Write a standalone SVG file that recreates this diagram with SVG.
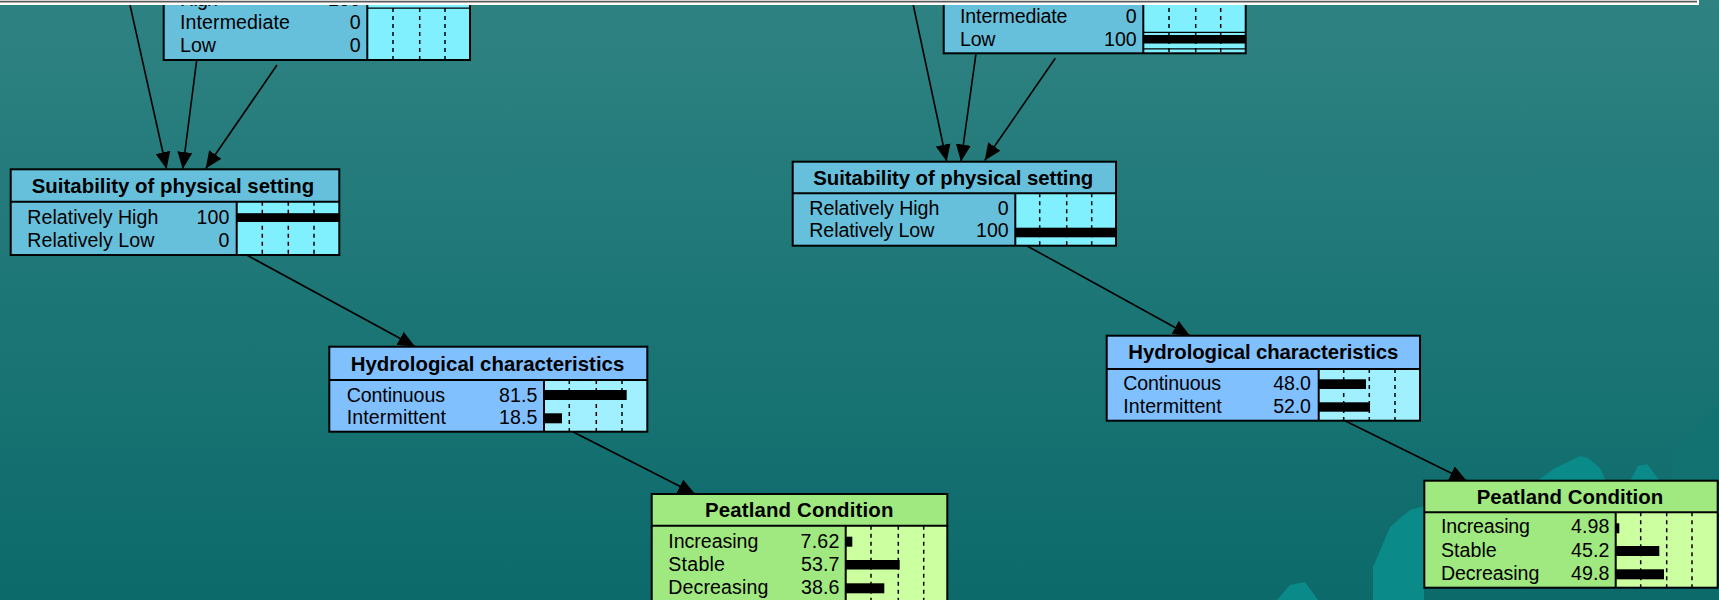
<svg xmlns="http://www.w3.org/2000/svg" width="1719" height="600" viewBox="0 0 1719 600">
  <defs>
    <linearGradient id="bg" x1="0" y1="0" x2="0" y2="1">
      <stop offset="0" stop-color="#2f8282"/>
      <stop offset="0.5" stop-color="#1d7676"/>
      <stop offset="1" stop-color="#0c6a6a"/>
    </linearGradient>
    <marker id="arrow" markerUnits="userSpaceOnUse" markerWidth="17" markerHeight="15" refX="17" refY="7.5" orient="auto">
      <path d="M0,0 L17,7.5 L0,15 z" fill="#000"/>
    </marker>
  </defs>
  <style>
    text { font-family: "Liberation Sans", Arial, sans-serif; fill: #000; }
    .lbl { font-size: 19.6px; }
    .val { font-size: 19.6px; text-anchor: end; }
    .ttl { font-size: 20.4px; font-weight: bold; text-anchor: middle; }
    .frame { fill: none; stroke: #000; stroke-width: 2; }
    .sep { stroke: #000; stroke-width: 2; }
    .tick { stroke: #000; stroke-width: 1.5; stroke-dasharray: 4 4; }
    .bar { fill: #000; }
    .thin { stroke: #000; stroke-width: 1.3; }
    .edge { stroke: #000; stroke-width: 1.6; fill: none; marker-end: url(#arrow); }
    .blueA { fill: #66c0dc; }
    .blueB { fill: #80f0ff; }
    .skyA { fill: #80c0ff; }
    .skyB { fill: #a0f0ff; }
    .greenA { fill: #a0e880; }
    .greenB { fill: #ccffa0; }
    .art { fill: #0b8a8a; }
  </style>

  <!-- backdrop -->
  <rect x="0" y="0" width="1719" height="600" fill="url(#bg)"/>
  <g id="backdrop-art">
    <polygon class="art" points="1373,600 1373,567 1390,527 1410,510 1424,506 1424,600"/>
    <polygon class="art" points="1277,600 1290,585 1305,582 1318,600"/>
    <polygon class="art" points="1537,481 1555,468 1580,456 1588,458 1600,468 1606,481"/>
    <polygon class="art" points="1630,481 1638,466 1647,464 1660,481"/>
    <polygon points="1672,481 1673,447 1695,430 1719,405 1719,481" fill="#127272"/>
  </g>

  <!-- connectors -->
  <g id="connectors">
    <line class="edge" x1="128.9" y1="0" x2="166.6" y2="169"/>
    <line class="edge" x1="196.7" y1="60" x2="182.7" y2="169"/>
    <line class="edge" x1="277" y1="65" x2="205.7" y2="168.5"/>
    <line class="edge" x1="246.7" y1="255" x2="415" y2="346.5"/>
    <line class="edge" x1="573.3" y1="432" x2="695" y2="494"/>
    <line class="edge" x1="912.2" y1="0" x2="946.7" y2="161.5"/>
    <line class="edge" x1="976" y1="53.3" x2="961" y2="161.5"/>
    <line class="edge" x1="1055.3" y1="58.3" x2="984.7" y2="160.5"/>
    <line class="edge" x1="1026.7" y1="245.7" x2="1190" y2="335.7"/>
    <line class="edge" x1="1345" y1="420.7" x2="1466.7" y2="480.7"/>
  </g>

  <!-- parent node, left (title above view) -->
  <g id="node-parent-left">
    <rect class="blueA" x="163.7" y="-40" width="306.3" height="100"/>
    <rect class="blueB" x="367.3" y="-40" width="102.7" height="100"/>
    <line class="sep" x1="367.3" y1="-40" x2="367.3" y2="60"/>
    <line class="tick" x1="393" y1="-40" x2="393" y2="60"/>
    <line class="tick" x1="419.7" y1="-40" x2="419.7" y2="60"/>
    <line class="tick" x1="445" y1="-40" x2="445" y2="60"/>
    <rect class="bar" x="367.3" y="-5" width="102.7" height="9"/>
    <line class="thin" x1="367.3" y1="8.2" x2="470" y2="8.2"/>
    <text class="lbl" x="180" y="6" textLength="38">High</text>
    <text class="val" x="360.7" y="6">100</text>
    <text class="lbl" x="180" y="29.3" textLength="110">Intermediate</text>
    <text class="val" x="360.7" y="29.3">0</text>
    <text class="lbl" x="180" y="52.3" textLength="36">Low</text>
    <text class="val" x="360.7" y="52.3">0</text>
    <rect class="frame" x="163.7" y="-40" width="306.3" height="100"/>
  </g>

  <!-- parent node, right (title above view) -->
  <g id="node-parent-right">
    <rect class="blueA" x="943.7" y="-40" width="302" height="93.3"/>
    <rect class="blueB" x="1143.3" y="-40" width="102.4" height="93.3"/>
    <line class="sep" x1="1143.3" y1="-40" x2="1143.3" y2="53.3"/>
    <line class="tick" x1="1169" y1="-40" x2="1169" y2="53.3"/>
    <line class="tick" x1="1195.7" y1="-40" x2="1195.7" y2="53.3"/>
    <line class="tick" x1="1220.7" y1="-40" x2="1220.7" y2="53.3"/>
    <line class="thin" x1="1143.3" y1="32.3" x2="1245.7" y2="32.3"/>
    <rect class="bar" x="1143.3" y="35" width="102.4" height="8.5"/>
    <line class="thin" x1="1143.3" y1="48.8" x2="1245.7" y2="48.8"/>
    <text class="lbl" x="960" y="22.7" textLength="107.5">Intermediate</text>
    <text class="val" x="1136.7" y="22.7">0</text>
    <text class="lbl" x="960" y="45.5" textLength="35.5">Low</text>
    <text class="val" x="1136.7" y="45.5">100</text>
    <rect class="frame" x="943.7" y="-40" width="302" height="93.3"/>
  </g>

  <!-- Suitability of physical setting, left -->
  <g id="node-suitability-left">
    <rect class="blueA" x="10.7" y="169.3" width="328.6" height="85.7"/>
    <rect class="blueB" x="236.7" y="201.7" width="102.6" height="53.3"/>
    <line class="tick" x1="262.3" y1="201.7" x2="262.3" y2="255"/>
    <line class="tick" x1="288.3" y1="201.7" x2="288.3" y2="255"/>
    <line class="tick" x1="314" y1="201.7" x2="314" y2="255"/>
    <rect class="bar" x="236.7" y="213.2" width="102.6" height="8.8"/>
    <line class="sep" x1="10.7" y1="201.7" x2="339.3" y2="201.7"/>
    <line class="sep" x1="236.7" y1="201.7" x2="236.7" y2="255"/>
    <text class="ttl" x="173" y="193" textLength="282.5">Suitability of physical setting</text>
    <text class="lbl" x="27.3" y="224" textLength="131">Relatively High</text>
    <text class="val" x="229.3" y="224">100</text>
    <text class="lbl" x="27.3" y="246.7" textLength="127">Relatively Low</text>
    <text class="val" x="229.3" y="246.7">0</text>
    <rect class="frame" x="10.7" y="169.3" width="328.6" height="85.7"/>
  </g>

  <!-- Suitability of physical setting, right -->
  <g id="node-suitability-right">
    <rect class="blueA" x="792.7" y="161.7" width="323.3" height="84"/>
    <rect class="blueB" x="1015.3" y="193.3" width="100.7" height="52.4"/>
    <line class="tick" x1="1039.7" y1="193.3" x2="1039.7" y2="245.7"/>
    <line class="tick" x1="1066.7" y1="193.3" x2="1066.7" y2="245.7"/>
    <line class="tick" x1="1091.7" y1="193.3" x2="1091.7" y2="245.7"/>
    <rect class="bar" x="1015.3" y="227.7" width="100.7" height="9.6"/>
    <line class="sep" x1="792.7" y1="193.3" x2="1116" y2="193.3"/>
    <line class="sep" x1="1015.3" y1="193.3" x2="1015.3" y2="245.7"/>
    <text class="ttl" x="953.3" y="185" textLength="280">Suitability of physical setting</text>
    <text class="lbl" x="809.3" y="215" textLength="130">Relatively High</text>
    <text class="val" x="1008.7" y="215">0</text>
    <text class="lbl" x="809.3" y="237.3" textLength="125">Relatively Low</text>
    <text class="val" x="1008.7" y="237.3">100</text>
    <rect class="frame" x="792.7" y="161.7" width="323.3" height="84"/>
  </g>

  <!-- Hydrological characteristics, left -->
  <g id="node-hydrology-left">
    <rect class="skyA" x="329.3" y="346.7" width="318" height="85"/>
    <rect class="skyB" x="544" y="380" width="103.3" height="51.7"/>
    <line class="tick" x1="569.3" y1="380" x2="569.3" y2="431.7"/>
    <line class="tick" x1="596.3" y1="380" x2="596.3" y2="431.7"/>
    <line class="tick" x1="622" y1="380" x2="622" y2="431.7"/>
    <rect class="bar" x="544" y="390" width="82.7" height="10"/>
    <rect class="bar" x="544" y="413.3" width="18" height="10"/>
    <line class="sep" x1="329.3" y1="380" x2="647.3" y2="380"/>
    <line class="sep" x1="544" y1="380" x2="544" y2="431.7"/>
    <text class="ttl" x="487.5" y="370.7" textLength="273.5">Hydrological characteristics</text>
    <text class="lbl" x="346.7" y="401.7" textLength="98.3">Continuous</text>
    <text class="val" x="537.3" y="401.7" textLength="38.3">81.5</text>
    <text class="lbl" x="346.7" y="424.3" textLength="99.3">Intermittent</text>
    <text class="val" x="537.3" y="424.3" textLength="38.3">18.5</text>
    <rect class="frame" x="329.3" y="346.7" width="318" height="85"/>
  </g>

  <!-- Hydrological characteristics, right -->
  <g id="node-hydrology-right">
    <rect class="skyA" x="1106.7" y="335.7" width="313.3" height="85"/>
    <rect class="skyB" x="1318.7" y="369" width="101.3" height="51.7"/>
    <line class="tick" x1="1343.7" y1="369" x2="1343.7" y2="420.7"/>
    <line class="tick" x1="1369.3" y1="369" x2="1369.3" y2="420.7"/>
    <line class="tick" x1="1395" y1="369" x2="1395" y2="420.7"/>
    <rect class="bar" x="1318.7" y="379.3" width="47.3" height="9.7"/>
    <rect class="bar" x="1318.7" y="402.3" width="51.3" height="9.4"/>
    <line class="sep" x1="1106.7" y1="369" x2="1420" y2="369"/>
    <line class="sep" x1="1318.7" y1="369" x2="1318.7" y2="420.7"/>
    <text class="ttl" x="1263.3" y="359.3" textLength="270">Hydrological characteristics</text>
    <text class="lbl" x="1123.3" y="390" textLength="97.7">Continuous</text>
    <text class="val" x="1311" y="390" textLength="37.7">48.0</text>
    <text class="lbl" x="1123.3" y="412.7" textLength="98.4">Intermittent</text>
    <text class="val" x="1311" y="412.7" textLength="37.7">52.0</text>
    <rect class="frame" x="1106.7" y="335.7" width="313.3" height="85"/>
  </g>

  <!-- Peatland Condition, left -->
  <g id="node-peatland-left">
    <rect class="greenA" x="651.7" y="494" width="295.6" height="120"/>
    <rect class="greenB" x="845.7" y="525.7" width="101.6" height="88.3"/>
    <line class="tick" x1="871" y1="525.7" x2="871" y2="614"/>
    <line class="tick" x1="898.3" y1="525.7" x2="898.3" y2="614"/>
    <line class="tick" x1="923.7" y1="525.7" x2="923.7" y2="614"/>
    <rect class="bar" x="845.7" y="536.7" width="6.6" height="10"/>
    <rect class="bar" x="845.7" y="560" width="54" height="9.5"/>
    <rect class="bar" x="845.7" y="583.3" width="38.6" height="10"/>
    <line class="sep" x1="651.7" y1="525.7" x2="947.3" y2="525.7"/>
    <line class="sep" x1="845.7" y1="525.7" x2="845.7" y2="614"/>
    <text class="ttl" x="799.2" y="517.3" textLength="188.3">Peatland Condition</text>
    <text class="lbl" x="668.3" y="548.3" textLength="90">Increasing</text>
    <text class="val" x="839.3" y="548.3" textLength="38.7">7.62</text>
    <text class="lbl" x="668.3" y="570.7" textLength="56.7">Stable</text>
    <text class="val" x="839.3" y="570.7" textLength="38.3">53.7</text>
    <text class="lbl" x="668.3" y="594" textLength="100">Decreasing</text>
    <text class="val" x="839.3" y="594" textLength="38.3">38.6</text>
    <rect class="frame" x="651.7" y="494" width="295.6" height="120"/>
  </g>

  <!-- Peatland Condition, right -->
  <g id="node-peatland-right">
    <rect class="greenA" x="1424.3" y="480.7" width="293.4" height="107"/>
    <rect class="greenB" x="1615.7" y="512.3" width="102" height="75.4"/>
    <line class="tick" x1="1640.7" y1="512.3" x2="1640.7" y2="587.7"/>
    <line class="tick" x1="1666.7" y1="512.3" x2="1666.7" y2="587.7"/>
    <line class="tick" x1="1692" y1="512.3" x2="1692" y2="587.7"/>
    <rect class="bar" x="1615.7" y="523.3" width="3.6" height="10"/>
    <rect class="bar" x="1615.7" y="546" width="43.6" height="10"/>
    <rect class="bar" x="1615.7" y="569.3" width="48.3" height="10"/>
    <line class="sep" x1="1424.3" y1="512.3" x2="1717.7" y2="512.3"/>
    <line class="sep" x1="1615.7" y1="512.3" x2="1615.7" y2="587.7"/>
    <text class="ttl" x="1570" y="504" textLength="186.6">Peatland Condition</text>
    <text class="lbl" x="1441" y="533.3" textLength="89">Increasing</text>
    <text class="val" x="1609.3" y="533.3" textLength="38.3">4.98</text>
    <text class="lbl" x="1441" y="556.7" textLength="55.7">Stable</text>
    <text class="val" x="1609.3" y="556.7" textLength="38.3">45.2</text>
    <text class="lbl" x="1441" y="580" textLength="98.3">Decreasing</text>
    <text class="val" x="1609.3" y="580" textLength="38.3">49.8</text>
    <rect class="frame" x="1424.3" y="480.7" width="293.4" height="107"/>
  </g>

  <!-- window strip along the top edge -->
  <g id="top-strip">
    <rect x="0" y="0" width="1699" height="5" fill="#ffffff"/>
    <line x1="0" y1="1.6" x2="1697" y2="1.6" stroke="#5a5a5a" stroke-width="1.6"/>
  </g>
</svg>
